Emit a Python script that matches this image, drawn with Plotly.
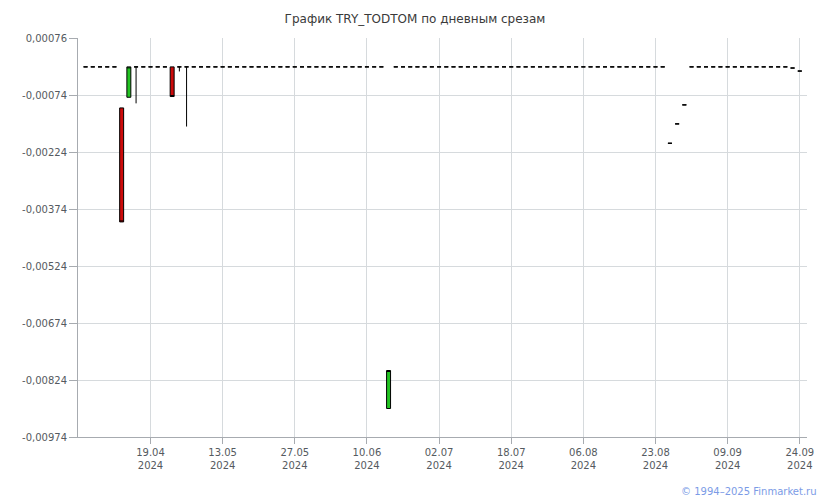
import plotly.graph_objects as go

# trading-day index (categories) and OHLC values
day_index = list(range(100))

open_vals = [
    0, 0, 0, 0, 0, -0.00108, -0.00080, 0, 0, 0,
    0, 0, 0, 0, 0, 0, 0, 0, 0, 0,
    0, 0, 0, 0, 0, 0, 0, 0, 0, 0,
    0, 0, 0, 0, 0, 0, 0, 0, 0, 0,
    0, 0, -0.00899, 0, 0, 0, 0, 0, 0, 0,
    0, 0, 0, 0, 0, 0, 0, 0, 0, 0,
    0, 0, 0, 0, 0, 0, 0, 0, 0, 0,
    0, 0, 0, 0, 0, 0, 0, 0, 0, 0,
    0, -0.00201, -0.00150, -0.00100, 0, 0, 0, 0, 0, 0,
    0, 0, 0, 0, 0, 0, 0, 0, -0.00003, -0.00011,
]
high_vals = [
    0, 0, 0, 0, 0, -0.00108, 0, 0, 0, 0,
    0, 0, 0, 0, 0, 0, 0, 0, 0, 0,
    0, 0, 0, 0, 0, 0, 0, 0, 0, 0,
    0, 0, 0, 0, 0, 0, 0, 0, 0, 0,
    0, 0, -0.00799, 0, 0, 0, 0, 0, 0, 0,
    0, 0, 0, 0, 0, 0, 0, 0, 0, 0,
    0, 0, 0, 0, 0, 0, 0, 0, 0, 0,
    0, 0, 0, 0, 0, 0, 0, 0, 0, 0,
    0, -0.00201, -0.00150, -0.00100, 0, 0, 0, 0, 0, 0,
    0, 0, 0, 0, 0, 0, 0, 0, -0.00003, -0.00011,
]
low_vals = [
    0, 0, 0, 0, 0, -0.00408, -0.00080, -0.00096, 0, 0,
    0, 0, -0.00078, -0.00012, -0.00157, 0, 0, 0, 0, 0,
    0, 0, 0, 0, 0, 0, 0, 0, 0, 0,
    0, 0, 0, 0, 0, 0, 0, 0, 0, 0,
    0, 0, -0.00899, 0, 0, 0, 0, 0, 0, 0,
    0, 0, 0, 0, 0, 0, 0, 0, 0, 0,
    0, 0, 0, 0, 0, 0, 0, 0, 0, 0,
    0, 0, 0, 0, 0, 0, 0, 0, 0, 0,
    0, -0.00201, -0.00150, -0.00100, 0, 0, 0, 0, 0, 0,
    0, 0, 0, 0, 0, 0, 0, 0, -0.00003, -0.00011,
]
close_vals = [
    0, 0, 0, 0, 0, -0.00408, 0, 0, 0, 0,
    0, 0, -0.00078, 0, 0, 0, 0, 0, 0, 0,
    0, 0, 0, 0, 0, 0, 0, 0, 0, 0,
    0, 0, 0, 0, 0, 0, 0, 0, 0, 0,
    0, 0, -0.00799, 0, 0, 0, 0, 0, 0, 0,
    0, 0, 0, 0, 0, 0, 0, 0, 0, 0,
    0, 0, 0, 0, 0, 0, 0, 0, 0, 0,
    0, 0, 0, 0, 0, 0, 0, 0, 0, 0,
    0, -0.00201, -0.00150, -0.00100, 0, 0, 0, 0, 0, 0,
    0, 0, 0, 0, 0, 0, 0, 0, -0.00003, -0.00011,
]

x_tick_pos = [9, 19, 29, 39, 49, 59, 69, 79, 89, 99]
x_tick_labels = ["19.04<br>2024", "13.05<br>2024", "27.05<br>2024", "10.06<br>2024",
                 "02.07<br>2024", "18.07<br>2024", "06.08<br>2024", "23.08<br>2024",
                 "09.09<br>2024", "24.09<br>2024"]

y_tick_vals = [0.00076, -0.00074, -0.00224, -0.00374, -0.00524, -0.00674, -0.00824, -0.00974]
y_tick_labels = ["0,00076", "-0,00074", "-0,00224", "-0,00374", "-0,00524",
                 "-0,00674", "-0,00824", "-0,00974"]

fig = go.Figure(go.Candlestick(
    x=day_index, open=open_vals, high=high_vals, low=low_vals, close=close_vals,
    increasing=dict(line=dict(color="#000000", width=1), fillcolor="#22c422"),
    decreasing=dict(line=dict(color="#000000", width=1), fillcolor="#cc0a0a"),
    whiskerwidth=0, showlegend=False, hoverinfo="skip",
))

axis_font = dict(family="DejaVu Sans, Verdana, sans-serif", size=10, color="#555a60")
grid_c = "#d6dadd"
line_c = "#a7abb0"

fig.update_layout(
    width=830, height=500,
    margin=dict(l=78, r=23, t=38, b=63),
    paper_bgcolor="white", plot_bgcolor="white",
    boxgap=0.45, boxgroupgap=0,
    title=dict(text="График TRY_TODTOM по дневным срезам", x=0.5, xref="container",
               y=0.962, yref="container", yanchor="middle", xanchor="center",
               font=dict(family="DejaVu Sans, Verdana, sans-serif", size=12, color="#3a3a3a")),
    xaxis=dict(range=[-1.05, 100.0], tickmode="array", tickvals=x_tick_pos, ticktext=x_tick_labels,
               showgrid=True, gridcolor=grid_c, gridwidth=1, zeroline=False,
               showline=True, linecolor=line_c, linewidth=1,
               ticks="outside", ticklen=6, tickcolor=line_c, tickfont=axis_font,
               rangeslider=dict(visible=False), fixedrange=True),
    yaxis=dict(range=[-0.00974, 0.00076], tickmode="array", tickvals=y_tick_vals, ticktext=y_tick_labels,
               showgrid=True, gridcolor=grid_c, gridwidth=1, zeroline=False,
               showline=True, linecolor=line_c, linewidth=1,
               ticks="outside", ticklen=8, tickcolor=line_c, tickfont=axis_font, fixedrange=True),
    annotations=[dict(text="© 1994–2025 Finmarket.ru", xref="paper", yref="paper",
                      x=1.016, y=-0.137, xanchor="right", yanchor="middle", showarrow=False,
                      font=dict(family="DejaVu Sans, Verdana, sans-serif", size=10, color="#7b9be6"))],
)

fig.write_html("out.html", config={"displayModeBar": False},
               post_script="document.body.style.margin='0';document.body.style.overflow='hidden';")
